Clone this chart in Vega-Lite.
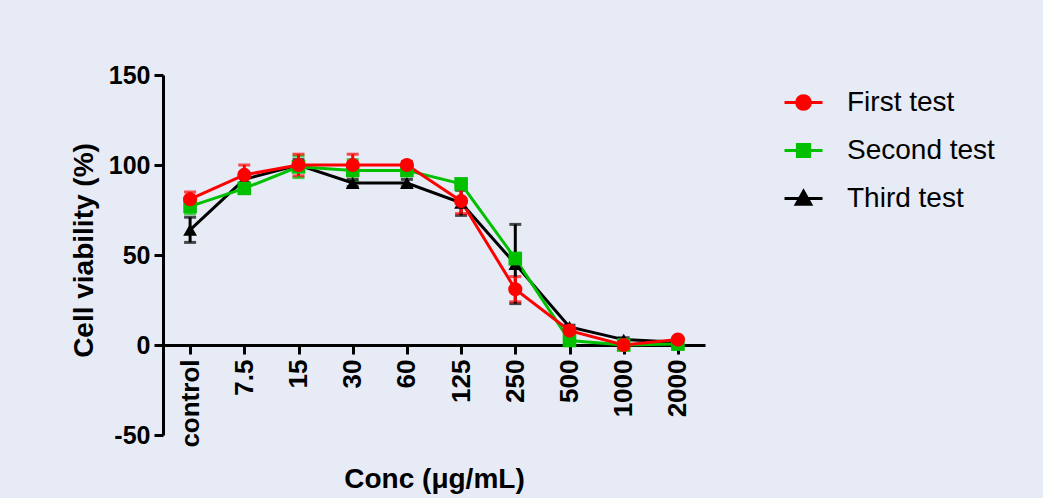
{
  "$schema": "https://vega.github.io/schema/vega-lite/v6.json",
  "width": 542,
  "height": 360,
  "autosize": "none",
  "padding": {"left": 163, "top": 75, "right": 338, "bottom": 63},
  "background": "#E6EBF5",
  "config": {
    "view": {"stroke": null},
    "font": "Liberation Sans",
    "axis": {"domainColor": "black", "domainWidth": 3, "tickColor": "black", "tickWidth": 3, "tickSize": 9, "labelColor": "black", "titleColor": "black", "labelFont": "Liberation Sans", "titleFont": "Liberation Sans", "labelFontWeight": "bold", "titleFontWeight": "bold", "labelFontSize": 25, "titleFontSize": 28, "grid": false}
  },
  "data": {"values": [
    {"conc": "control", "series": "Third test", "v": 64, "err": 7},
    {"conc": "7.5", "series": "Third test", "v": 92, "err": 2},
    {"conc": "15", "series": "Third test", "v": 100, "err": 3},
    {"conc": "30", "series": "Third test", "v": 90, "err": 2},
    {"conc": "60", "series": "Third test", "v": 90, "err": 2},
    {"conc": "125", "series": "Third test", "v": 79, "err": 7},
    {"conc": "250", "series": "Third test", "v": 45, "err": 22},
    {"conc": "500", "series": "Third test", "v": 10, "err": 1},
    {"conc": "1000", "series": "Third test", "v": 3, "err": 1},
    {"conc": "2000", "series": "Third test", "v": 1.5, "err": 1},
    {"conc": "control", "series": "Second test", "v": 77, "err": 4},
    {"conc": "7.5", "series": "Second test", "v": 87, "err": 2},
    {"conc": "15", "series": "Second test", "v": 99, "err": 6},
    {"conc": "30", "series": "Second test", "v": 97, "err": 6},
    {"conc": "60", "series": "Second test", "v": 97, "err": 3},
    {"conc": "125", "series": "Second test", "v": 89.5, "err": 2},
    {"conc": "250", "series": "Second test", "v": 48, "err": 3},
    {"conc": "500", "series": "Second test", "v": 2.5, "err": 1},
    {"conc": "1000", "series": "Second test", "v": 0, "err": 1},
    {"conc": "2000", "series": "Second test", "v": 0.5, "err": 1},
    {"conc": "control", "series": "First test", "v": 81, "err": 4},
    {"conc": "7.5", "series": "First test", "v": 94.5, "err": 5.5},
    {"conc": "15", "series": "First test", "v": 100, "err": 6},
    {"conc": "30", "series": "First test", "v": 100, "err": 6},
    {"conc": "60", "series": "First test", "v": 100, "err": 2},
    {"conc": "125", "series": "First test", "v": 80, "err": 7},
    {"conc": "250", "series": "First test", "v": 31, "err": 7},
    {"conc": "500", "series": "First test", "v": 8, "err": 1},
    {"conc": "1000", "series": "First test", "v": 0, "err": 1},
    {"conc": "2000", "series": "First test", "v": 3, "err": 1}
  ]},
  "encoding": {
    "x": {"field": "conc", "type": "nominal", "sort": ["control", "7.5", "15", "30", "60", "125", "250", "500", "1000", "2000"],
      "scale": {"type": "point", "padding": 0.5},
      "axis": {"title": "Conc (\u03bcg/mL)", "offset": -90, "labelAngle": -90, "labelPadding": 5, "titlePadding": 18, "labelFontSize": 26}},
    "y": {"field": "v", "type": "quantitative", "scale": {"domain": [-50, 150], "nice": false, "zero": false},
      "axis": {"title": "Cell viability (%)", "values": [-50, 0, 50, 100, 150], "labelExpr": "replace(datum.label, '\u2212', '-')", "labelPadding": 4, "titleX": -65, "titleY": 175}},
    "color": {"field": "series", "type": "nominal", "scale": {"domain": ["First test", "Second test", "Third test"], "range": ["#FF0000", "#00C000", "#000000"]},
      "legend": {"title": null, "orient": "none", "legendX": 620, "legendY": 7, "padding": 0, "labelFont": "Liberation Sans", "labelFontSize": 28, "labelColor": "black", "labelOffset": 23, "symbolSize": 1444, "rowPadding": 13,
        "encode": {"symbols": {"update": {
          "shape": [
            {"test": "datum.value === 'First test'", "value": "M-1,0H1M-0.36,0A0.36,0.36,0,1,1,0.36,0A0.36,0.36,0,1,1,-0.36,0Z"},
            {"test": "datum.value === 'Second test'", "value": "M-1,0H1M-0.32,-0.32H0.32V0.32H-0.32Z"},
            {"value": "M-1,0H1M0,-0.38L0.38,0.3L-0.38,0.3Z"}
          ],
          "stroke": {"scale": "color", "field": "value"},
          "fill": {"scale": "color", "field": "value"},
          "strokeWidth": {"value": 3},
          "strokeDash": {"value": []},
          "size": {"value": 1444},
          "opacity": {"value": 1}
        }}}
      }}
  },
  "layer": [
    {
      "mark": {"type": "errorbar", "ticks": {"size": 12, "strokeWidth": 3}, "thickness": 3},
      "encoding": {"yError": {"field": "err"}}
    },
    {
      "mark": {"type": "line", "strokeWidth": 3}
    },
    {
      "transform": [{"filter": "datum.series === 'Third test'"}],
      "mark": {"type": "point", "filled": true, "opacity": 1, "size": 190, "shape": "triangle-up"}
    },
    {
      "transform": [{"filter": "datum.series === 'Second test'"}],
      "mark": {"type": "point", "filled": true, "opacity": 1, "size": 185, "shape": "square"}
    },
    {
      "transform": [{"filter": "datum.series === 'First test'"}],
      "mark": {"type": "point", "filled": true, "opacity": 1, "size": 200, "shape": "circle"}
    }
  ]
}
